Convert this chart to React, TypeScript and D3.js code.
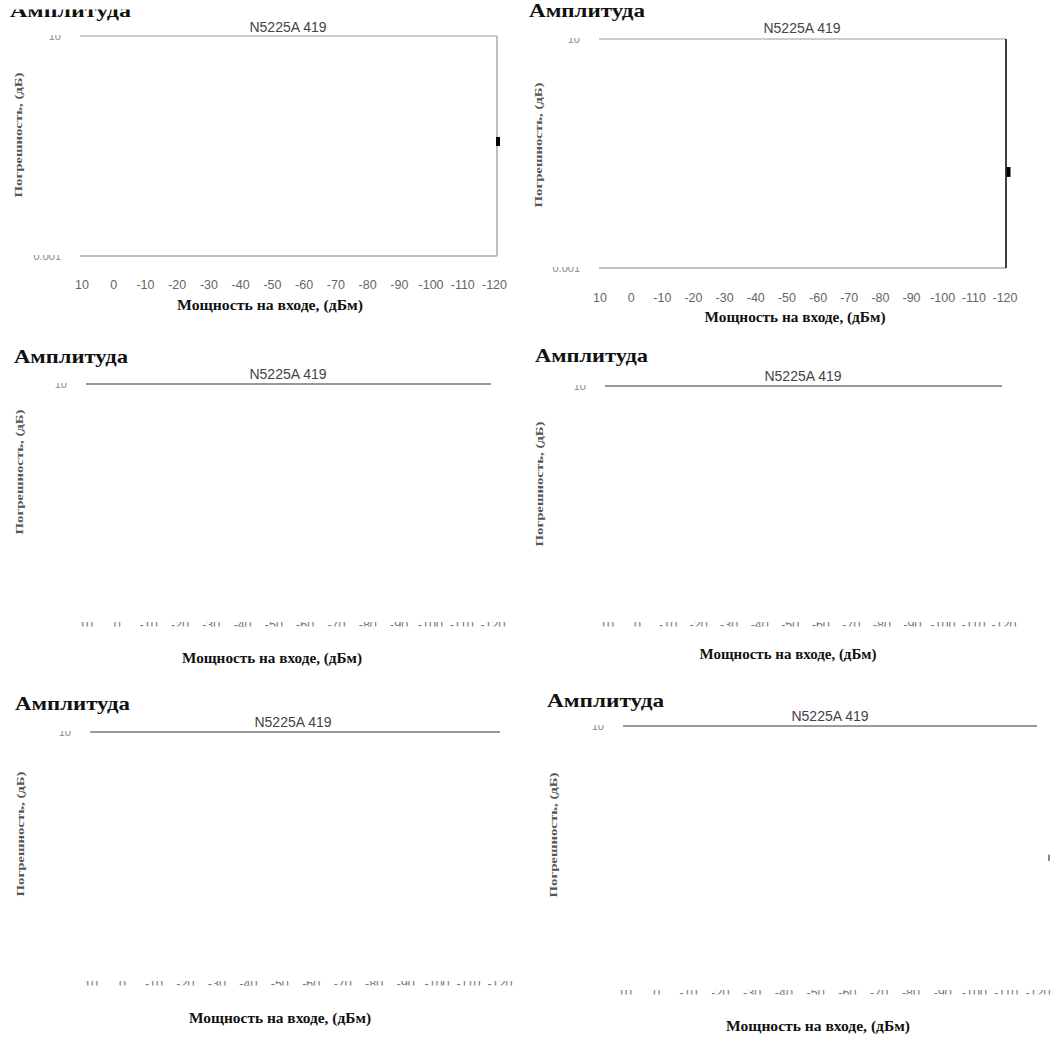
import React from "react";
import * as d3 from "d3";

// ---- data ----
const xTickValues = [10, 0, -10, -20, -30, -40, -50, -60, -70, -80, -90, -100, -110, -120];
const yTickValues = [10, 0.001];
const yTickLabels = ["10", "0.001"];
const sectionTitles = ["Амплитуда", "Амплитуда", "Амплитуда", "Амплитуда", "Амплитуда", "Амплитуда"];
const chartTitles = ["N5225A 419", "N5225A 419", "N5225A 419", "N5225A 419", "N5225A 419", "N5225A 419"];
const xAxisTitle = "Мощность на входе, (дБм)";
const yAxisTitle = "Погрешность, (дБ)";
// visible measurement marks (panel index, x value, low / high of the mark)
const markPanels = [0, 1, 5];
const markX = [-120, -120, -120];
const markLow = [0.1, 0.039, 0.055];
const markHigh = [0.146, 0.058, 0.07];

// ---- layout (positions only) ----
type Layout = {
  ampX: number; ampY: number; ampW: number; ampClipTop?: number;
  titleX: number; titleY: number;
  left: number; right: number; top: number; bottom: number;
  tickL: number; tickR: number; tickY: number;
  xlX: number; xlY: number; xlW: number;
  ylX: number; ylY: number;
  frame: "full" | "dark" | "top";
  faint: boolean;
  markDx: number; markColor: string;
};

const layouts: Layout[] = [
  { ampX: 10, ampY: 17, ampW: 121, ampClipTop: 9.5, titleX: 288, titleY: 32, left: 80, right: 497, top: 36, bottom: 256,
    tickL: 82, tickR: 494.5, tickY: 289, xlX: 270, xlY: 310, xlW: 186, ylX: 22, ylY: 135, frame: "full", faint: false, markDx: 3.5, markColor: "#000" },
  { ampX: 529, ampY: 16.5, ampW: 116, titleX: 802, titleY: 33, left: 599, right: 1006, top: 39, bottom: 268,
    tickL: 600, tickR: 1005, tickY: 302, xlX: 795, xlY: 322, xlW: 181, ylX: 542, ylY: 145, frame: "dark", faint: false, markDx: 3.5, markColor: "#000" },
  { ampX: 14, ampY: 363, ampW: 114, titleX: 288, titleY: 379, left: 86, right: 491, top: 384, bottom: 597,
    tickL: 86, tickR: 493, tickY: 629, xlX: 272, xlY: 663, xlW: 180, ylX: 23, ylY: 472, frame: "top", faint: true, markDx: 0, markColor: "#999" },
  { ampX: 535, ampY: 362, ampW: 113, titleX: 803, titleY: 381, left: 605, right: 1002, top: 386, bottom: 598,
    tickL: 607, tickR: 1004, tickY: 629, xlX: 788, xlY: 659, xlW: 177, ylX: 543, ylY: 484, frame: "top", faint: true, markDx: 0, markColor: "#999" },
  { ampX: 15, ampY: 710, ampW: 115, titleX: 293, titleY: 727, left: 90, right: 500, top: 732, bottom: 956,
    tickL: 91, tickR: 500, tickY: 988, xlX: 280, xlY: 1023, xlW: 182, ylX: 24, ylY: 834, frame: "top", faint: true, markDx: 0, markColor: "#999" },
  { ampX: 547, ampY: 707, ampW: 117, titleX: 830, titleY: 721, left: 623, right: 1037, top: 726, bottom: 965,
    tickL: 625, tickR: 1038, tickY: 997, xlX: 818, xlY: 1031, xlW: 184, ylX: 557, ylY: 835, frame: "top", faint: true, markDx: 12, markColor: "#888" },
];

const serif = "'Liberation Serif', 'Times New Roman', serif";
const sans = "'Liberation Sans', Arial, sans-serif";

function Panel({ i, L }: { i: number; L: Layout }) {
  const x = d3.scaleLinear().domain([10, -120]).range([L.tickL, L.tickR]);
  const y = d3.scaleLog().domain([0.001, 10]).range([L.bottom, L.top]);
  const id = `p${i}`;
  const marks = markPanels
    .map((p, k) => ({ p, k }))
    .filter((m) => m.p === i);

  return (
    <g>
      <defs>
        {L.ampClipTop !== undefined && (
          <clipPath id={`${id}-amp`}>
            <rect x={0} y={L.ampClipTop} width={200} height={40} />
          </clipPath>
        )}
        {yTickValues.map((v, k) => (
          <clipPath key={k} id={`${id}-yt${k}`}>
            <rect x={L.left - 80} y={y(v) - 1} width={70} height={6} />
          </clipPath>
        ))}
        {L.faint && (
          <clipPath id={`${id}-xt`}>
            <rect x={L.tickL - 30} y={L.tickY - 7} width={L.tickR - L.tickL + 60} height={4.5} />
          </clipPath>
        )}
      </defs>

      {/* section heading */}
      <text
        x={L.ampX}
        y={L.ampY}
        fontFamily={serif}
        fontWeight="bold"
        fontSize={19.5}
        textLength={L.ampW}
        lengthAdjust="spacingAndGlyphs"
        fill="#111"
        clipPath={L.ampClipTop !== undefined ? `url(#${id}-amp)` : undefined}
      >
        {sectionTitles[i]}
      </text>

      {/* chart title */}
      <text x={L.titleX} y={L.titleY} textAnchor="middle" fontFamily={sans} fontSize={14} fill="#444">
        {chartTitles[i]}
      </text>

      {/* frame */}
      <line x1={L.left} x2={L.right} y1={L.top} y2={L.top} stroke={L.frame === "top" ? "#777" : "#bbb"} strokeWidth={1.5} />
      {L.frame !== "top" && (
        <>
          <line x1={L.left} x2={L.right} y1={L.bottom} y2={L.bottom} stroke="#aaa" strokeWidth={1.5} />
          <line x1={L.right} x2={L.right} y1={L.top} y2={L.bottom} stroke={L.frame === "dark" ? "#000" : "#aaa"} strokeWidth={1.5} />
        </>
      )}

      {/* marks */}
      {marks.map(({ k }) => (
        <rect
          key={k}
          x={x(markX[k]) + L.markDx - 2}
          y={y(markHigh[k])}
          width={L.frame === "top" ? 2 : 4}
          height={y(markLow[k]) - y(markHigh[k])}
          fill={L.markColor}
        />
      ))}

      {/* y tick labels */}
      {yTickValues.map((v, k) =>
        L.faint && k === 1 ? null : (
          <text
            key={k}
            x={L.left - 19}
            y={y(v) + 4}
            textAnchor="end"
            fontFamily={sans}
            fontSize={11}
            fill="#888"
            clipPath={`url(#${id}-yt${k})`}
          >
            {yTickLabels[k]}
          </text>
        )
      )}

      {/* x tick labels */}
      <g clipPath={L.faint ? `url(#${id}-xt)` : undefined}>
        {xTickValues.map((v) => (
          <text
            key={v}
            x={x(v)}
            y={L.tickY}
            textAnchor="middle"
            fontFamily={sans}
            fontSize={12.5}
            fill={L.faint ? "#777" : "#666"}
          >
            {String(v)}
          </text>
        ))}
      </g>

      {/* x axis title */}
      <text
        x={L.xlX}
        y={L.xlY}
        textAnchor="middle"
        fontFamily={serif}
        fontWeight="bold"
        fontSize={14}
        textLength={L.xlW}
        lengthAdjust="spacingAndGlyphs"
        fill="#111"
      >
        {xAxisTitle}
      </text>

      {/* y axis title */}
      <text
        transform={`translate(${L.ylX},${L.ylY}) rotate(-90)`}
        textAnchor="middle"
        fontFamily={serif}
        fontWeight="bold"
        fontSize={10}
        textLength={125}
        lengthAdjust="spacingAndGlyphs"
        fill="#555"
      >
        {yAxisTitle}
      </text>
    </g>
  );
}

export default function App() {
  return (
    <svg
      width={1055}
      height={1039}
      viewBox="0 0 1055 1039"
      style={{ position: "absolute", left: 0, top: 0, background: "#fff" }}
    >
      <rect x={0} y={0} width={1055} height={1039} fill="#fff" />
      {layouts.map((L, i) => (
        <Panel key={i} i={i} L={L} />
      ))}
    </svg>
  );
}
